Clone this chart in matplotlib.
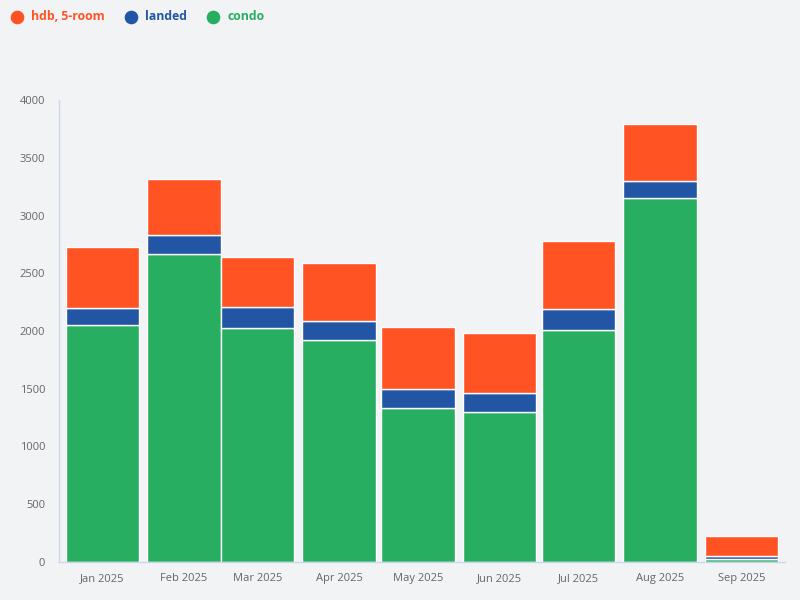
import numpy as np
import pandas as pd
import matplotlib
matplotlib.use('Agg')
import matplotlib.pyplot as plt
from matplotlib.lines import Line2D
import matplotlib.dates as mdates

months = ['2025-01-01', '2025-02-01', '2025-03-01', '2025-04-01', '2025-05-01',
          '2025-06-01', '2025-07-01', '2025-08-01', '2025-09-01']
condo = [2050, 2665, 2022, 1920, 1330, 1295, 2007, 3150, 30]
landed = [150, 165, 190, 165, 172, 165, 180, 147, 18]
hdb = [525, 485, 433, 508, 536, 520, 590, 493, 180]
series_names = ['hdb, 5-room', 'landed', 'condo']

c_hdb = '#FF5323'
c_landed = '#2255A4'
c_condo = '#27AE60'
bg = '#F2F3F5'

plt.rcParams['font.family'] = ['Open Sans', 'DejaVu Sans']

dates = pd.to_datetime(months)
x = mdates.date2num(dates)
condo = np.array(condo)
landed = np.array(landed)
hdb = np.array(hdb)

fig = plt.figure(figsize=(8, 6), dpi=100, facecolor=bg)
ax = fig.add_axes([59/800, 38/600, 726/800, 462/600], facecolor=bg)

w = 28
kw = dict(width=w, edgecolor='white', linewidth=1)
ax.bar(x, condo, color=c_condo, **kw)
ax.bar(x, landed, bottom=condo, color=c_landed, **kw)
ax.bar(x, hdb, bottom=condo + landed, color=c_hdb, **kw)

ax.set_xlim(x[0] - 16.5, x[-1] + 16.5)
ax.set_ylim(0, 4000)
ax.set_xticks(x)
ax.set_xticklabels([d.strftime('%b %Y') for d in dates])
ax.set_yticks(np.arange(0, 4001, 500))
ax.tick_params(axis='both', length=0, labelsize=8, colors='#666666')
ax.tick_params(axis='x', pad=8)
ax.tick_params(axis='y', pad=10)
for s in ['top', 'right']:
    ax.spines[s].set_visible(False)
for s in ['left', 'bottom']:
    ax.spines[s].set_color('#ccd6eb')
    ax.spines[s].set_linewidth(1)

# legend drawn by hand along the top
leg_x = [17, 131, 213]
for px, name, c in zip(leg_x, series_names, [c_hdb, c_landed, c_condo]):
    fig.add_artist(Line2D([px/800], [1 - 17/600], marker='o', markersize=8.8,
                          color=c, linestyle='', transform=fig.transFigure))
    fig.text((px + 14)/800, 1 - 17/600, name, color=c, fontsize=8.8,
             fontweight='bold', va='center', ha='left')

fig.savefig('out.png', dpi=100, facecolor=bg)
